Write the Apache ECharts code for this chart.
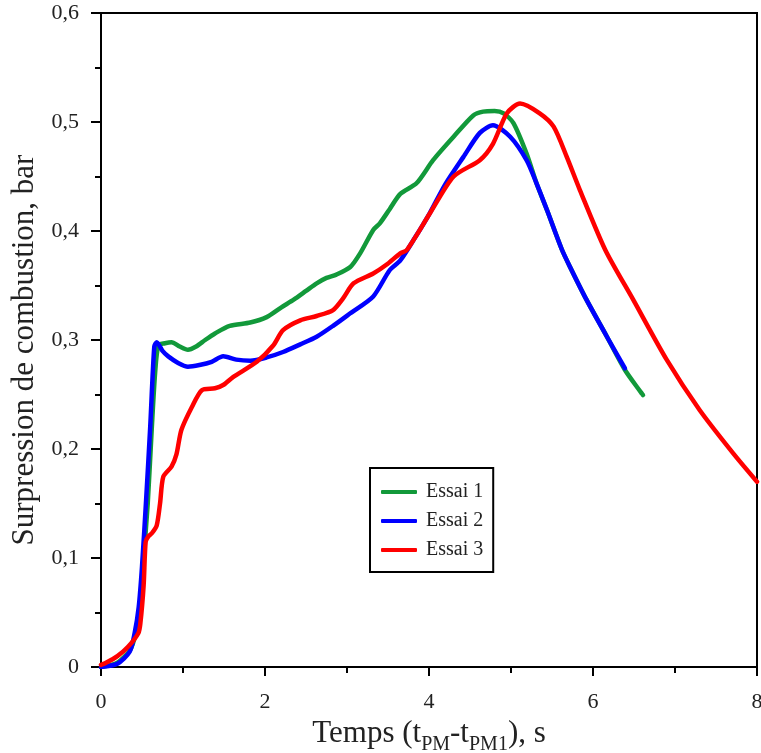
<!DOCTYPE html>
<html>
<head>
<meta charset="utf-8">
<script src="https://cdn.jsdelivr.net/npm/echarts@6/dist/echarts.min.js"></script>
<style>html,body{margin:0;padding:0;background:#fff;overflow:hidden}#c{width:761px;height:753px}</style>
</head>
<body>
<div id="c"></div>
<script>
// Essai 1 (green)
var essai1X = [0, 0.2, 0.35, 0.42, 0.48, 0.52, 0.57, 0.62, 0.66, 0.7, 0.78, 0.86, 0.96, 1.06, 1.16, 1.27, 1.39, 1.57, 1.82, 2.02, 2.2, 2.35, 2.5, 2.63, 2.75, 2.87, 3.04, 3.16, 3.32, 3.4, 3.52, 3.65, 3.85, 4.05, 4.3, 4.54, 4.66, 4.8, 4.91, 5.03, 5.19, 5.31, 5.44, 5.62, 5.72, 5.92, 6.17, 6.39, 6.61];
var essai1Y = [0, 0.004, 0.015, 0.03, 0.06, 0.1, 0.15, 0.22, 0.27, 0.295, 0.297, 0.298, 0.294, 0.291, 0.294, 0.3, 0.306, 0.313, 0.316, 0.321, 0.33, 0.337, 0.345, 0.352, 0.357, 0.36, 0.367, 0.3795, 0.401, 0.407, 0.42, 0.434, 0.444, 0.465, 0.4865, 0.506, 0.5095, 0.51, 0.508, 0.499, 0.471, 0.444, 0.419, 0.383, 0.367, 0.337, 0.303, 0.2725, 0.2495];
// Essai 2 (blue)
var essai2X = [0, 0.2, 0.35, 0.41, 0.46, 0.5, 0.55, 0.6, 0.65, 0.68, 0.75, 0.82, 0.94, 1.06, 1.2, 1.35, 1.49, 1.65, 1.82, 2.02, 2.22, 2.43, 2.63, 2.83, 3.04, 3.32, 3.52, 3.65, 3.83, 4.01, 4.2, 4.42, 4.62, 4.78, 4.99, 5.19, 5.31, 5.44, 5.62, 5.72, 5.92, 6.17, 6.39];
var essai2Y = [0, 0.003, 0.014, 0.031, 0.055, 0.092, 0.153, 0.22, 0.294, 0.298, 0.29, 0.285, 0.279, 0.2755, 0.277, 0.28, 0.285, 0.282, 0.281, 0.284, 0.289, 0.296, 0.303, 0.313, 0.3245, 0.34, 0.364, 0.373, 0.394, 0.4165, 0.443, 0.468, 0.49, 0.497, 0.4865, 0.465, 0.444, 0.419, 0.383, 0.367, 0.337, 0.303, 0.274];
// Essai 3 (red)
var essai3X = [0, 0.05, 0.2, 0.33, 0.455, 0.48, 0.52, 0.545, 0.58, 0.62, 0.68, 0.72, 0.76, 0.86, 0.92, 0.98, 1.11, 1.23, 1.39, 1.49, 1.61, 1.9, 2.1, 2.22, 2.43, 2.63, 2.83, 2.95, 3.08, 3.32, 3.48, 3.65, 3.73, 4.01, 4.3, 4.62, 4.78, 4.95, 5.11, 5.35, 5.52, 5.68, 5.84, 6.15, 6.49, 6.9, 7.3, 7.71, 8.0];
var essai3Y = [0.002, 0.0034, 0.01, 0.0186, 0.031, 0.04, 0.075, 0.115, 0.12, 0.1227, 0.13, 0.15, 0.1746, 0.1838, 0.195, 0.2174, 0.2388, 0.254, 0.2557, 0.2587, 0.266, 0.28, 0.295, 0.309, 0.318, 0.322, 0.3275, 0.338, 0.352, 0.361, 0.369, 0.3795, 0.3826, 0.416, 0.45, 0.465, 0.48, 0.508, 0.517, 0.508, 0.4957, 0.468, 0.4376, 0.3826, 0.337, 0.2817, 0.2358, 0.196, 0.17];

var seriesNames = ['Essai 1', 'Essai 2', 'Essai 3'];
var seriesColors = ['#12993a', '#0000ff', '#ff0000'];
var xTicks = [0, 2, 4, 6, 8];
var yTicks = [0, 0.1, 0.2, 0.3, 0.4, 0.5, 0.6];

function pairs(xs, ys) { return xs.map(function (x, i) { return [x, ys[i]]; }); }
var datasets = [pairs(essai1X, essai1Y), pairs(essai2X, essai2Y), pairs(essai3X, essai3Y)];

var FONT = '"Liberation Serif", "Times New Roman", serif';
var chart = echarts.init(document.getElementById('c'), null, { renderer: 'canvas', width: 761, height: 753 });
chart.setOption({
  animation: false,
  backgroundColor: '#fff',
  grid: { left: 101, right: 4, top: 13, bottom: 86, outerBoundsMode: 'none', containLabel: false, show: true, borderColor: '#000', borderWidth: 2, backgroundColor: 'transparent' },
  legend: {
    data: seriesNames,
    orient: 'vertical',
    left: 370, top: 468,
    padding: [14, 10, 12, 11],
    itemGap: 9,
    itemWidth: 36, itemHeight: 4,
    icon: 'roundRect',
    borderColor: '#000', borderWidth: 2,
    textStyle: { fontFamily: FONT, fontSize: 20, color: '#222', lineHeight: 20, padding: [0, 0, 0, 4] }
  },
  xAxis: {
    type: 'value', min: xTicks[0], max: xTicks[xTicks.length - 1], interval: 2,
    name: '{a|Temps (t}{s|PM}{a|-t}{s|PM1}{a|), s}',
    nameLocation: 'middle', nameGap: 48,
    nameTextStyle: {
      rich: {
        a: { fontFamily: FONT, fontSize: 31, color: '#222', verticalAlign: 'bottom' },
        s: { fontFamily: FONT, fontSize: 20, color: '#222', verticalAlign: 'bottom', padding: [0, 0, -6, 0] }
      }
    },
    axisLine: { show: true, lineStyle: { color: '#000', width: 2 } },
    axisTick: { show: true, inside: false, length: 9, lineStyle: { color: '#000', width: 2 } },
    minorTick: { show: true, splitNumber: 2, length: 6, lineStyle: { color: '#000', width: 2 } },
    splitLine: { show: false },
    axisLabel: { fontFamily: FONT, fontSize: 22, color: '#222', margin: 24 }
  },
  yAxis: {
    type: 'value', min: yTicks[0], max: yTicks[yTicks.length - 1], interval: 0.1,
    name: 'Surpression de combustion, bar',
    nameLocation: 'middle', nameGap: 55, nameRotate: 90,
    nameTextStyle: { fontFamily: FONT, fontSize: 31, color: '#222', padding: [0, 20, 0, 0] },
    axisLine: { show: true, lineStyle: { color: '#000', width: 2 } },
    axisTick: { show: true, inside: false, length: 10, lineStyle: { color: '#000', width: 2 } },
    minorTick: { show: true, splitNumber: 2, length: 6, lineStyle: { color: '#000', width: 2 } },
    splitLine: { show: false },
    axisLabel: {
      fontFamily: FONT, fontSize: 22, color: '#222', margin: 22,
      formatter: function (v) { var r = Math.round(v * 10) / 10; return r === 0 ? '0' : r.toFixed(1).replace('.', ','); }
    }
  },
  series: datasets.map(function (d, i) {
    return {
      name: seriesNames[i], type: 'line', data: d,
      symbol: 'none', smooth: 0.25,
      lineStyle: { color: seriesColors[i], width: 4.5, cap: 'round', join: 'round' },
      itemStyle: { color: seriesColors[i] },
      z: 2 + i
    };
  })
});
</script>
</body>
</html>
